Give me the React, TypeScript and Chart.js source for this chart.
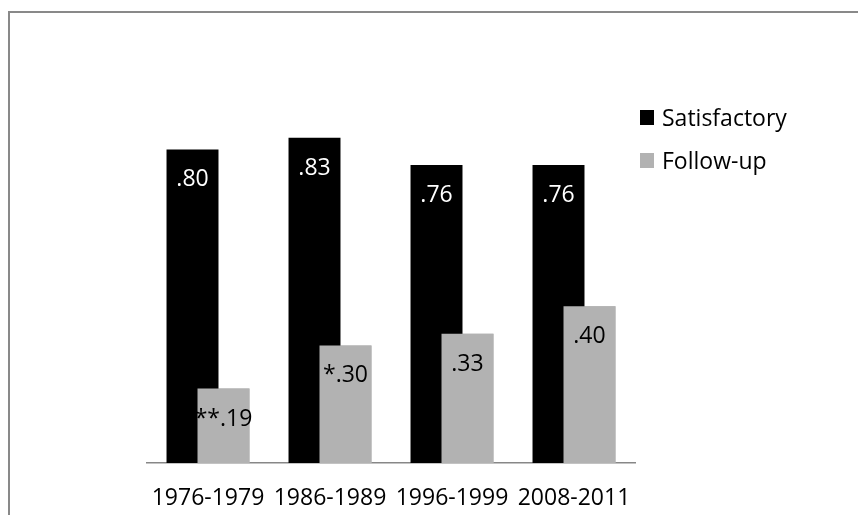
import { useEffect, useRef } from 'react';
import { Chart, registerables } from 'chart.js';

Chart.register(...registerables);

const categories = ['1976-1979', '1986-1989', '1996-1999', '2008-2011'];
const seriesNames = ['Satisfactory', 'Follow-up'];
const satisfactory = [0.8, 0.83, 0.76, 0.76];
const followUp = [0.19, 0.3, 0.33, 0.4];
const satisfactoryMarks = ['', '', '', ''];
const followUpMarks = ['**', '*', '', ''];

const FONT = "'Open Sans', 'Noto Sans', sans-serif";
const BLACK = '#000000';
const GRAY = '#b2b2b2';

const fmt = (v: number) => v.toFixed(2).replace(/^0/, '');

// Excel-style overlap: the second series must sit on top of the first.
const overlapPlugin = {
  id: 'overlapOnTop',
  afterDatasetDraw(chart: any, args: any) {
    if (args.index === 0) {
      const meta = chart.getDatasetMeta(1);
      if (meta && meta.controller) meta.controller.draw();
    }
  },
};

const labelPlugin = {
  id: 'valueLabelsAndLegend',
  afterDatasetsDraw(chart: any) {
    const ctx = chart.ctx as CanvasRenderingContext2D;
    ctx.save();
    ctx.font = `23px ${FONT}`;
    ctx.textAlign = 'center';
    ctx.textBaseline = 'alphabetic';
    chart.data.datasets.forEach((ds: any, di: number) => {
      const meta = chart.getDatasetMeta(di);
      meta.data.forEach((el: any, i: number) => {
        const txt = (ds.marks[i] || '') + fmt(ds.data[i]);
        ctx.fillStyle = ds.valueColor;
        ctx.fillText(txt, el.x, el.y + 37);
      });
    });
    // legend
    const lx = 640;
    const ly = 110;
    const gap = 43;
    ctx.textAlign = 'left';
    chart.data.datasets.forEach((ds: any, di: number) => {
      const y = ly + di * gap;
      ctx.fillStyle = ds.backgroundColor;
      ctx.fillRect(lx, y, 14, 15);
      ctx.fillStyle = '#000';
      ctx.fillText(ds.label, lx + 22, y + 16);
    });
    ctx.restore();
  },
};

export default function App() {
  const ref = useRef<HTMLCanvasElement | null>(null);
  useEffect(() => {
    if (!ref.current) return;
    Chart.defaults.font.family = FONT;
    const chart = new Chart(ref.current, {
      type: 'bar',
      data: {
        labels: categories,
        datasets: [
          {
            label: seriesNames[0],
            data: satisfactory,
            backgroundColor: BLACK,
            marks: satisfactoryMarks,
            valueColor: '#ffffff',
          } as any,
          {
            label: seriesNames[1],
            data: followUp,
            backgroundColor: GRAY,
            marks: followUpMarks,
            valueColor: '#000000',
          } as any,
        ],
      },
      options: {
        animation: false,
        responsive: false,
        devicePixelRatio: 1,
        events: [],
        categoryPercentage: 0.508,
        barPercentage: 1.677,
        layout: { padding: { left: 147, right: 223, top: 71, bottom: -19 } },
        plugins: { legend: { display: false }, tooltip: { enabled: false } },
        scales: {
          x: {
            grid: { display: false, drawTicks: false },
            border: { display: true, color: '#878787', width: 1.5 },
            ticks: {
              color: '#000',
              font: { size: 23, family: FONT, lineHeight: 1 },
              padding: 24,
              autoSkip: false,
              maxRotation: 0,
              minRotation: 0,
            },
          },
          y: { display: false, min: 0, max: 1 },
        },
      } as any,
      plugins: [overlapPlugin, labelPlugin],
    });
    return () => chart.destroy();
  }, []);

  return (
    <>
      <div
        style={{
          position: 'fixed',
          left: 8,
          top: 11,
          width: 850,
          height: 504,
          boxSizing: 'border-box',
          borderLeft: '2px solid #898989',
          borderTop: '2px solid #898989',
        }}
      />
      <canvas
        ref={ref}
        width={858}
        height={515}
        style={{ position: 'fixed', left: 0, top: 0, width: 858, height: 515 }}
      />
    </>
  );
}
